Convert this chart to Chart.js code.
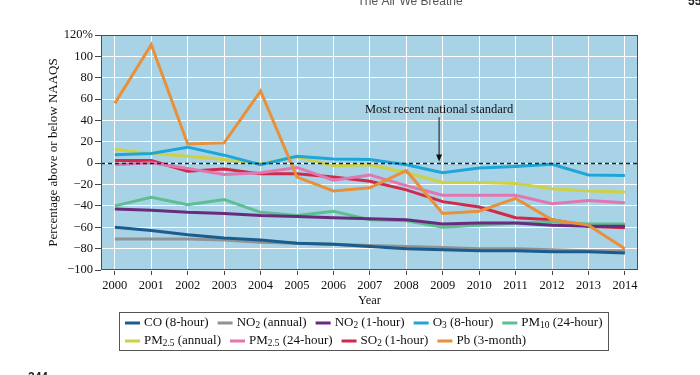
<!DOCTYPE html>
<html>
  <head>
    <meta charset="utf-8">
    <title>NAAQS trends</title>
    <style>
      body {
        margin: 0;
        background: #fff;
      }
      .wrap {
        position: relative;
        width: 700px;
        height: 375px;
      }
    </style>
  </head>
  <body>
    <div class="wrap">
      <canvas id="naaqsChart" width="700" height="375"></canvas>
    </div>

    <script src="https://cdn.jsdelivr.net/npm/chart.js"></script>
    <script>
      // values (percent above / below the standard)
      var years = [2000, 2001, 2002, 2003, 2004, 2005, 2006, 2007, 2008, 2009, 2010, 2011, 2012, 2013, 2014];
      var yTicks = [-100, -80, -60, -40, -20, 0, 20, 40, 60, 80, 100, 120];

      var co8hr     = [-60, -63, -67, -70, -72, -75, -76, -78, -80, -81, -82, -82, -83, -83, -84];
      var no2Annual = [-71, -71, -71, -72, -74, -75, -76, -77, -78, -79, -80, -80, -81, -82, -82];
      var no21hr    = [-43, -44, -46, -47, -49, -50, -51, -52, -53, -57, -56, -56, -58, -59, -59];
      var o38hr     = [8, 9, 15, 7.5, -1.5, 6.5, 4, 3.5, -1.5, -9, -4.5, -3, -1, -11, -11.5];
      var pm10      = [-40, -32, -39, -34, -46, -49, -45, -53, -54, -60, -58, -56, -55, -57, -57];
      var pm25Ann   = [13, 9, 6.5, 3.5, -0.5, 6, -2.5, -1.5, -9, -18, -18, -19, -24, -26, -27];
      var pm2524hr  = [-1.5, 0.5, -5, -10.5, -9, -4, -16, -11, -21, -30, -30, -30, -38, -35, -37];
      var so21hr    = [2.5, 2.5, -7.5, -5.5, -10, -10, -13, -17, -25, -36, -41, -51, -53, -59, -60.5];
      var pb3mo     = [56, 111, 18, 19, 67.5, -13, -26, -23, -7, -47, -45, -33, -53, -58, -80];

      var seriesLabels = ['CO (8-hour)', 'NO_{2} (annual)', 'NO_{2} (1-hour)', 'O_{3} (8-hour)', 'PM_{10} (24-hour)',
                          'PM_{2.5} (annual)', 'PM_{2.5} (24-hour)', 'SO_{2} (1-hour)', 'Pb (3-month)'];
      var seriesValues = [co8hr, no2Annual, no21hr, o38hr, pm10, pm25Ann, pm2524hr, so21hr, pb3mo];
      var seriesColors = ['#1c5c8c', '#8d9498', '#6a2b7e', '#1fa6d8', '#5dbf8f', '#cdd146', '#e276b0', '#cf2a4a', '#e8903a'];

      var standardNote = { text: 'Most recent national standard', year: 2008.9, textY: 50, arrowFrom: 43, arrowTo: 1.5 };

      var serif = "'Liberation Serif', 'Times New Roman', serif";

      // "NO_{2}" -> plain text with unicode subscripts for the dataset label
      function plainLabel(s) {
        var map = {'0': '\u2080', '1': '\u2081', '2': '\u2082', '3': '\u2083', '5': '\u2085', '.': '.'};
        return s.replace(/_\{([^}]*)\}/g, function (m, sub) {
          return sub.split('').map(function (c) { return map[c] || c; }).join('');
        });
      }

      function drawRich(ctx, label, x, y, size) {
        var parts = label.split(/_\{([^}]*)\}/);
        var cx = x;
        for (var i = 0; i < parts.length; i++) {
          if (!parts[i]) continue;
          var isSub = i % 2 === 1;
          ctx.font = (isSub ? size * 0.72 : size) + 'px ' + serif;
          ctx.fillText(parts[i], cx, isSub ? y + 3 : y);
          cx += ctx.measureText(parts[i]).width;
        }
        return cx - x;
      }

      var datasets = seriesValues.map(function (vals, i) {
        return {
          label: plainLabel(seriesLabels[i]),
          data: vals.map(function (v, j) { return { x: years[j], y: v }; }),
          borderColor: seriesColors[i],
          backgroundColor: seriesColors[i],
          borderWidth: 3,
          pointRadius: 0,
          tension: 0,
          fill: false,
          order: i === 8 ? -1 : i
        };
      });

      const plotExtras = {
        id: 'plotExtras',
        beforeDraw(chart) {
          const a = chart.chartArea;
          const ctx = chart.ctx;
          ctx.save();
          ctx.fillStyle = '#a8d3e6';
          ctx.fillRect(a.left, a.top, a.right - a.left, a.bottom - a.top);
          ctx.restore();
        },
        afterDatasetsDraw(chart) {
          const a = chart.chartArea;
          const ctx = chart.ctx;
          const xs = chart.scales.x, ys = chart.scales.y;
          ctx.save();

          // zero / standard line
          const y0 = Math.round(ys.getPixelForValue(0)) + 0.5;
          ctx.strokeStyle = '#1b2630';
          ctx.lineWidth = 1.6;
          ctx.setLineDash([4, 3]);
          ctx.beginPath();
          ctx.moveTo(a.left, y0);
          ctx.lineTo(a.right, y0);
          ctx.stroke();
          ctx.setLineDash([]);

          // annotation + arrow
          const ax = xs.getPixelForValue(standardNote.year);
          ctx.fillStyle = '#111';
          ctx.font = '12.5px ' + serif;
          ctx.textAlign = 'center';
          ctx.textBaseline = 'middle';
          ctx.fillText(standardNote.text, ax, ys.getPixelForValue(standardNote.textY));
          const yA = ys.getPixelForValue(standardNote.arrowFrom);
          const yB = ys.getPixelForValue(standardNote.arrowTo);
          ctx.strokeStyle = '#111';
          ctx.lineWidth = 1;
          ctx.beginPath();
          ctx.moveTo(ax, yA);
          ctx.lineTo(ax, yB - 5);
          ctx.stroke();
          ctx.beginPath();
          ctx.moveTo(ax - 3, yB - 7);
          ctx.lineTo(ax + 3, yB - 7);
          ctx.lineTo(ax, yB);
          ctx.closePath();
          ctx.fill();

          // plot frame
          ctx.strokeStyle = '#4a4f55';
          ctx.lineWidth = 1;
          ctx.strokeRect(Math.round(a.left) + 0.5, Math.round(a.top) + 0.5,
                         Math.round(a.right - a.left) - 1, Math.round(a.bottom - a.top) - 1);
          ctx.restore();
        },
        afterDraw(chart) {
          const ctx = chart.ctx;
          ctx.save();

          // legend box with two rows
          const rows = [[0, 1, 2, 3, 4], [5, 6, 7, 8]];
          const rowY = [323, 341];
          const startX = 125;
          let maxRight = 0;
          ctx.textAlign = 'left';
          ctx.textBaseline = 'middle';
          rows.forEach(function (row, r) {
            let x = startX;
            row.forEach(function (idx) {
              ctx.fillStyle = seriesColors[idx];
              ctx.fillRect(x, rowY[r] - 1.5, 15, 3);
              x += 19;
              ctx.fillStyle = '#111';
              x += drawRich(ctx, seriesLabels[idx], x, rowY[r], 13);
              maxRight = Math.max(maxRight, x);
              x += 9;
            });
          });
          ctx.strokeStyle = '#555';
          ctx.lineWidth = 1;
          ctx.strokeRect(119.5, 312.5, Math.round(maxRight + 6 - 119), 38);

          // bits of the book page around the figure
          ctx.fillStyle = '#555';
          ctx.font = "12px 'Liberation Sans', Arial, sans-serif";
          ctx.textAlign = 'center';
          ctx.textBaseline = 'alphabetic';
          ctx.fillText('The Air We Breathe', 410, 5);
          ctx.fillStyle = '#222';
          ctx.font = "bold 12px 'Liberation Sans', Arial, sans-serif";
          ctx.textAlign = 'left';
          ctx.fillText('55', 688, 5);
          ctx.fillText('244', 28, 381);
          ctx.restore();
        }
      };

      const ctx = document.getElementById('naaqsChart');

      new Chart(ctx, {
        type: 'line',
        data: { datasets: datasets },
        options: {
          responsive: false,
          animation: false,
          devicePixelRatio: 1,
          layout: { padding: { top: 35, right: 62, bottom: 67, left: 0 } },
          plugins: {
            legend: { display: false },
            tooltip: { enabled: false }
          },
          scales: {
            x: {
              type: 'linear',
              min: 1999.62,
              max: 2014.36,
              afterBuildTicks: function (axis) {
                axis.ticks = years.map(function (v) { return { value: v }; });
              },
              afterFit: function (axis) { axis.height = 38; },
              grid: { color: '#ffffff', lineWidth: 1, tickColor: '#444', tickLength: 5 },
              border: { display: false },
              ticks: {
                autoSkip: false,
                maxRotation: 0,
                padding: 3,
                color: '#111',
                font: { family: serif, size: 12.5 },
                callback: function (v) { return String(v); }
              },
              title: {
                display: true,
                text: 'Year',
                color: '#111',
                font: { family: serif, size: 12.5 },
                padding: { top: 0, bottom: 0 }
              }
            },
            y: {
              min: -100,
              max: 120,
              afterBuildTicks: function (axis) {
                axis.ticks = yTicks.map(function (v) { return { value: v }; });
              },
              afterFit: function (axis) { axis.width = 101; },
              grid: { color: '#ffffff', lineWidth: 1, tickColor: '#444', tickLength: 6 },
              border: { display: false },
              ticks: {
                padding: 2,
                color: '#111',
                font: { family: serif, size: 12.5 },
                callback: function (v) {
                  if (v === 120) return '120%';
                  return v < 0 ? '\u2212' + Math.abs(v) : String(v);
                }
              },
              title: {
                display: true,
                text: 'Percentage above or below NAAQS',
                color: '#111',
                font: { family: serif, size: 13 },
                padding: { top: 46, bottom: 0 }
              }
            }
          }
        },
        plugins: [plotExtras]
      });
    </script>
  </body>
</html>
